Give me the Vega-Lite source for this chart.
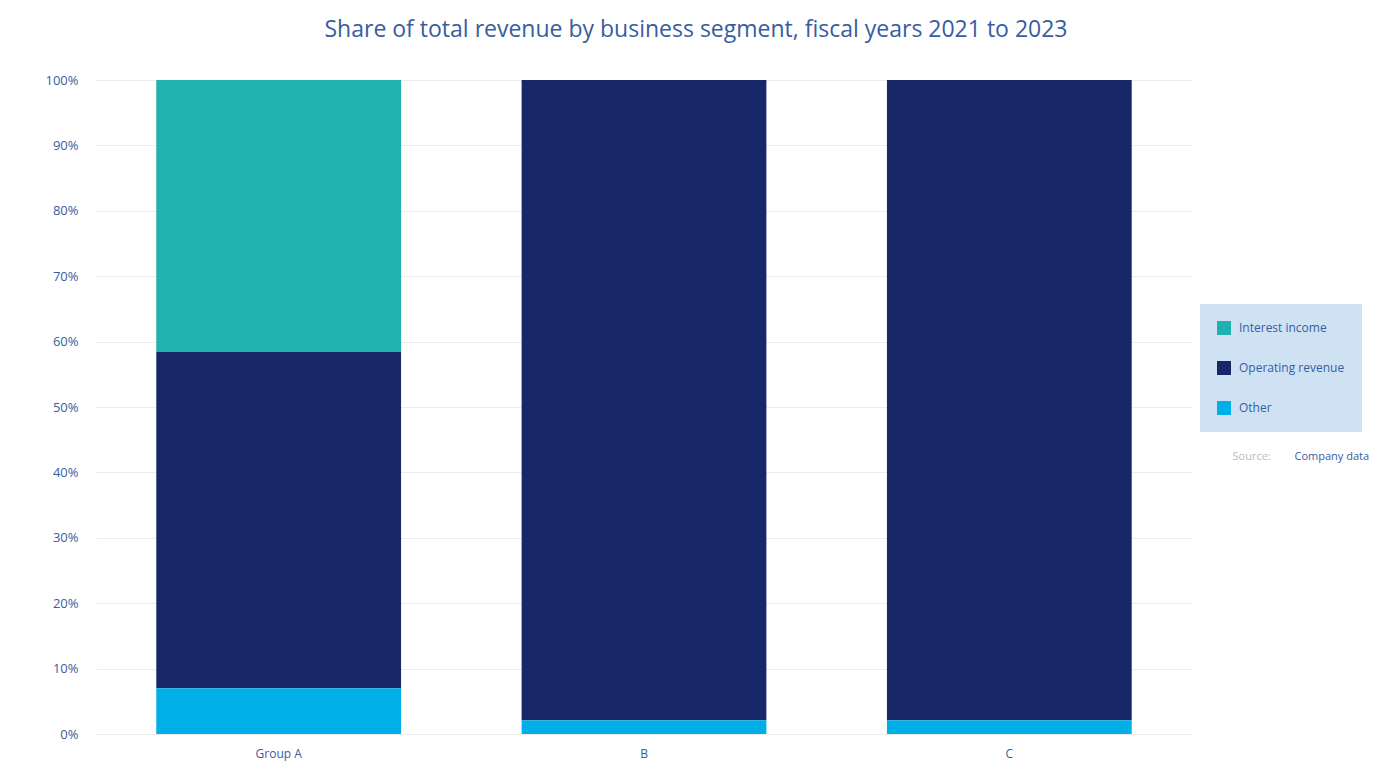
{
  "$schema": "https://vega.github.io/schema/vega-lite/v6.json",
  "description": "Stacked share of revenue by segment for three groups",
  "width": 1096,
  "height": 654,
  "autosize": {"type": "none"},
  "padding": {"left": 96, "top": 80, "right": 186, "bottom": 42},
  "title": {
    "text": "Share of total revenue by business segment, fiscal years 2021 to 2023",
    "anchor": "middle",
    "dx": 52,
    "offset": 32,
    "fontSize": 23,
    "fontWeight": "normal",
    "font": "Open Sans",
    "color": "#375da1"
  },
  "data": {
    "values": [
      {"group": "Group A", "series": "Interest income", "k": 3, "value": 41.6},
      {"group": "Group A", "series": "Operating revenue", "k": 2, "value": 51.4},
      {"group": "Group A", "series": "Other", "k": 1, "value": 7.0},
      {"group": "B", "series": "Operating revenue", "k": 2, "value": 97.9},
      {"group": "B", "series": "Other", "k": 1, "value": 2.1},
      {"group": "C", "series": "Operating revenue", "k": 2, "value": 97.9},
      {"group": "C", "series": "Other", "k": 1, "value": 2.1}
    ]
  },
  "mark": {"type": "bar"},
  "encoding": {
    "x": {
      "field": "group",
      "type": "nominal",
      "sort": null,
      "scale": {"paddingInner": 0.33, "paddingOuter": 0.165},
      "axis": {
        "title": "Company data",
        "titleColor": "#375da1",
        "titleFont": "Open Sans",
        "titleFontSize": 11,
        "titleFontWeight": "normal",
        "titleAlign": "left",
        "titleBaseline": "middle",
        "titleX": 1198,
        "titleY": -278,
        "labelAngle": 0,
        "labelColor": "#375da1",
        "labelFont": "Open Sans",
        "labelFontSize": 12,
        "labelPadding": 14,
        "domain": false,
        "ticks": false
      }
    },
    "y": {
      "field": "value",
      "type": "quantitative",
      "stack": true,
      "scale": {"domain": [0, 100]},
      "axis": {
        "title": "Source:",
        "titleColor": "#bbbbbb",
        "titleFont": "Open Sans",
        "titleFontSize": 11,
        "titleFontWeight": "normal",
        "titleAngle": 0,
        "titleAlign": "left",
        "titleBaseline": "middle",
        "titleX": 1136,
        "titleY": 376,
        "values": [0, 10, 20, 30, 40, 50, 60, 70, 80, 90, 100],
        "labelExpr": "datum.value + '%'",
        "labelColor": "#375da1",
        "labelFont": "Open Sans",
        "labelFontSize": 13,
        "labelPadding": 18,
        "gridColor": "#ebebeb",
        "domain": false,
        "ticks": false
      }
    },
    "color": {
      "field": "series",
      "type": "nominal",
      "scale": {
        "domain": ["Interest income", "Operating revenue", "Other"],
        "range": ["#20b2ae", "#182768", "#00aee8"]
      },
      "legend": {
        "orient": "none",
        "legendX": 1104,
        "legendY": 224,
        "title": null,
        "fillColor": "#cfe2f3",
        "padding": 17,
        "symbolType": "square",
        "symbolSize": 196,
        "symbolStrokeWidth": 0,
        "labelColor": "#375da1",
        "labelFont": "Open Sans",
        "labelFontSize": 12,
        "labelOffset": 8,
        "labelLimit": 130,
        "rowPadding": 26
      }
    },
    "order": {"field": "k", "type": "quantitative"}
  },
  "config": {
    "view": {"stroke": null},
    "font": "Open Sans"
  }
}
